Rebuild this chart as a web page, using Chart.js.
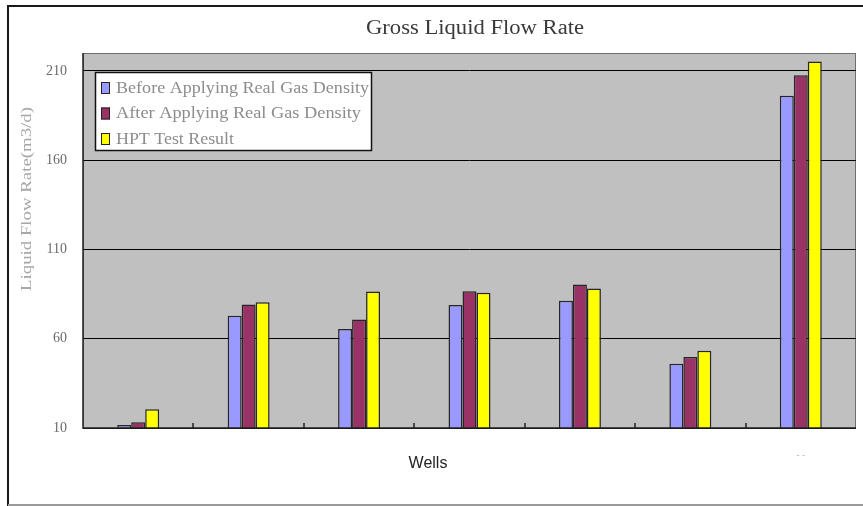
<!DOCTYPE html>
<html>
<head>
<meta charset="utf-8">
<script src="https://cdn.jsdelivr.net/npm/chart.js@4/dist/chart.umd.min.js"></script>
<style>
  html, body { margin: 0; padding: 0; background: #ffffff; }
  #wrap { width: 863px; height: 506px; }
</style>
</head>
<body>
<div id="wrap"><canvas id="c" width="863" height="506"></canvas></div>
<script>
// Well categories (only the last one carries a visible label)
const wells = ['', '', '', '', '', '', '- -'];

// Gross liquid flow rate per well, m3/d
const beforeRealGas = [11.7, 72.9, 65.4, 78.9, 81.3, 46.0, 196.1];
const afterRealGas  = [13.2, 79.1, 70.7, 86.6, 90.3, 49.7, 207.6];
const hptResult     = [20.5, 80.4, 86.4, 85.7, 88.1, 53.3, 215.2];

// Value axis
const yTicks = [10, 60, 110, 160, 210];
const yMin = 10;
const yMax = 220;

const titleText = 'Gross Liquid Flow Rate';
const yTitleText = 'Liquid Flow Rate(m3/d)';
const xTitleText = 'Wells';
const seriesNames = ['Before Applying Real Gas Density', 'After Applying Real Gas Density', 'HPT Test Result'];

const SERIF = '"Liberation Serif", "DejaVu Serif", serif';

// draw text squeezed/stretched horizontally to a given width
function fitText(ctx, text, x, y, width, align) {
  const w = ctx.measureText(text).width;
  const k = width / w;
  ctx.save();
  let left = x;
  if (align === 'center') left = x - width / 2;
  ctx.translate(left, y);
  ctx.scale(k, 1);
  ctx.textAlign = 'left';
  ctx.fillText(text, 0, 0);
  ctx.restore();
}

const decor = {
  id: 'decor',
  beforeDraw(chart) {
    const { ctx, chartArea: a } = chart;
    ctx.save();
    // outer frame
    ctx.strokeStyle = '#1a1a1a';
    ctx.lineWidth = 2;
    ctx.beginPath();
    ctx.moveTo(8, 506);
    ctx.lineTo(8, 6);
    ctx.lineTo(863, 6);
    ctx.stroke();
    ctx.strokeStyle = '#9a9a9a';
    ctx.beginPath();
    ctx.moveTo(8, 505);
    ctx.lineTo(863, 505);
    ctx.stroke();
    // plot background
    ctx.fillStyle = '#c0c0c0';
    ctx.fillRect(a.left, a.top, a.right - a.left, a.bottom - a.top);
    ctx.strokeStyle = '#6e6e6e';
    ctx.lineWidth = 1;
    ctx.strokeRect(a.left + 0.5, a.top + 0.5, a.right - a.left - 1, a.bottom - a.top);
    ctx.restore();
  },
  afterDraw(chart) {
    const { ctx, chartArea: a, scales } = chart;
    const x = scales.x;
    ctx.save();
    // boundary tick marks on the category axis, pointing into the plot
    ctx.strokeStyle = '#222';
    ctx.lineWidth = 1.5;
    for (let i = 0; i < wells.length - 1; i++) {
      const px = Math.round((x.getPixelForValue(i) + x.getPixelForValue(i + 1)) / 2);
      ctx.beginPath();
      ctx.moveTo(px, a.bottom);
      ctx.lineTo(px, a.bottom - 5);
      ctx.stroke();
    }
    // axis lines
    ctx.lineWidth = 1.5;
    ctx.beginPath();
    ctx.moveTo(a.left, a.top);
    ctx.lineTo(a.left, a.bottom);
    ctx.lineTo(a.right, a.bottom);
    ctx.stroke();

    // title
    ctx.fillStyle = '#3a3a3a';
    ctx.font = '20px ' + SERIF;
    ctx.textBaseline = 'middle';
    fitText(ctx, titleText, 475, 29, 218, 'center');

    // value axis title
    ctx.save();
    ctx.translate(27, 199);
    ctx.rotate(-Math.PI / 2);
    ctx.fillStyle = '#a8a8a8';
    ctx.font = '15px ' + SERIF;
    fitText(ctx, yTitleText, 0, 0, 184, 'center');
    ctx.restore();

    // category axis title
    ctx.fillStyle = '#222';
    ctx.font = '16px "Liberation Sans", Arial, sans-serif';
    ctx.textAlign = 'center';
    ctx.fillText(xTitleText, 428, 464);

    // legend
    const lx = 95.5, ly = 72.5, lw = 276, lh = 78;
    ctx.fillStyle = '#ffffff';
    ctx.fillRect(lx, ly, lw, lh);
    ctx.strokeStyle = '#111';
    ctx.lineWidth = 1.5;
    ctx.strokeRect(lx, ly, lw, lh);
    const rowY = [88, 113.5, 139];
    const textW = [253, 245, 118];
    chart.data.datasets.forEach((ds, i) => {
      ctx.fillStyle = ds.backgroundColor;
      ctx.fillRect(101, rowY[i] - 6, 9, 12);
      ctx.strokeStyle = '#222';
      ctx.lineWidth = 1;
      ctx.strokeRect(101.5, rowY[i] - 5.5, 8, 11);
      ctx.fillStyle = '#8c8c8c';
      ctx.font = '16px ' + SERIF;
      ctx.textBaseline = 'middle';
      fitText(ctx, ds.label, 116, rowY[i] + 0.5, textW[i], 'left');
    });
    ctx.restore();
  }
};

new Chart(document.getElementById('c'), {
  type: 'bar',
  data: {
    labels: wells,
    datasets: [
      { label: seriesNames[0], data: beforeRealGas, backgroundColor: '#9999ff' },
      { label: seriesNames[1], data: afterRealGas,  backgroundColor: '#993366' },
      { label: seriesNames[2], data: hptResult,     backgroundColor: '#ffff00' }
    ]
  },
  options: {
    responsive: false,
    animation: false,
    devicePixelRatio: 1,
    layout: { padding: { left: 0, top: 53, right: 7, bottom: 0 } },
    datasets: {
      bar: {
        borderColor: '#262626',
        borderWidth: 1.5,
        borderSkipped: 'bottom',
        barPercentage: 1,
        categoryPercentage: 0.38
      }
    },
    plugins: {
      legend: { display: false },
      title: { display: false },
      tooltip: { enabled: false }
    },
    scales: {
      x: {
        afterFit(s) { s.height = 78; },
        grid: { display: false, drawTicks: false },
        border: { display: false },
        ticks: {
          padding: 22,
          color: '#aaaaaa',
          font: { size: 9, family: '"Liberation Sans", sans-serif' },
          maxRotation: 0,
          autoSkip: false
        }
      },
      y: {
        min: yMin,
        max: yMax,
        afterFit(s) { s.width = 83; },
        afterBuildTicks(s) { s.ticks = yTicks.map(v => ({ value: v })); },
        grid: {
          drawTicks: false,
          color: '#000000',
          lineWidth: 1
        },
        border: { display: false },
        ticks: {
          padding: 16,
          color: '#6a6a6a',
          font: { size: 14, family: SERIF }
        }
      }
    }
  },
  plugins: [decor]
});
</script>
</body>
</html>
